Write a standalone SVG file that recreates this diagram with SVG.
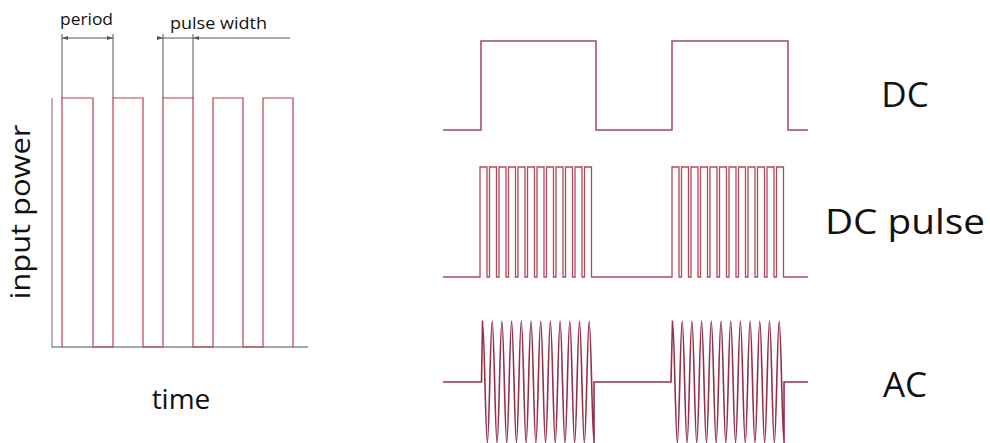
<svg xmlns="http://www.w3.org/2000/svg" width="990" height="443" viewBox="0 0 990 443">
<style>
.lbl{font-family:"Open Sans","Liberation Sans",sans-serif;fill:#111}
.dim{stroke:#555;stroke-width:1;fill:none}
.axis{stroke:#8a8a8a;stroke-width:1.3;fill:none}
.wave{fill:none;stroke-linejoin:miter}
</style>
<defs>
<marker id="ah" viewBox="0 0 6 6" refX="6" refY="3" markerWidth="6" markerHeight="6" orient="auto-start-reverse" markerUnits="userSpaceOnUse">
<path d="M0,1 L6,3 L0,5 Z" fill="#555"/>
</marker>
</defs>
<rect width="990" height="443" fill="#fff"/>

<g id="left-chart">
  <path class="axis" d="M52,98 V347 H308"/>
  <path class="wave" stroke="#b8404f" stroke-width="1.2" d="M62,347 V98 H93 V347 H113 V98 H143 V347 H163 V98 H193 V347 H213 V98 H243 V347 H263 V98 H293 V347"/>
  <g id="dimensions">
    <path class="dim" d="M62,34 V98 M113,34 V98 M163,34 V98 M193,34 V98"/>
    <line class="dim" x1="62" y1="38" x2="113" y2="38" marker-start="url(#ah)" marker-end="url(#ah)"/>
    <line class="dim" x1="157" y1="38" x2="163" y2="38" marker-end="url(#ah)"/>
    <line class="dim" x1="163" y1="38" x2="193" y2="38"/>
    <line class="dim" x1="290" y1="38" x2="193" y2="38" marker-end="url(#ah)"/>
  </g>
  <text class="lbl" x="60" y="25" font-size="16" textLength="53" lengthAdjust="spacingAndGlyphs">period</text>
  <text class="lbl" x="170" y="29" font-size="16" textLength="97" lengthAdjust="spacingAndGlyphs">pulse width</text>
  <text class="lbl" transform="translate(30,212) rotate(-90)" text-anchor="middle" font-size="27" textLength="175" lengthAdjust="spacingAndGlyphs">input power</text>
  <text class="lbl" x="181" y="409" text-anchor="middle" font-size="28">time</text>
</g>

<g id="dc">
  <path class="wave" stroke="#a34a58" stroke-width="1.5" d="M443,130 H481 V41 H596 V130 H672 V41 H788 V130 H808"/>
  <text class="lbl" x="905" y="107" text-anchor="middle" font-size="35">DC</text>
</g>

<g id="dc-pulse">
  <path class="wave" stroke="#b04a5a" stroke-width="1.3" d="M443,277 H480
  V167 h7 V277 h2.5 V167 h7 V277 h2.5 V167 h7 V277 h2.5 V167 h7 V277 h2.5
  V167 h7 V277 h2.5 V167 h7 V277 h2.5 V167 h7 V277 h2.5 V167 h7 V277 h2.5
  V167 h7 V277 h2.5 V167 h7 V277 h2.5 V167 h7 V277 h2.5 V167 h7 V277
  H672
  V167 h7 V277 h2.5 V167 h7 V277 h2.5 V167 h7 V277 h2.5 V167 h7 V277 h2.5
  V167 h7 V277 h2.5 V167 h7 V277 h2.5 V167 h7 V277 h2.5 V167 h7 V277 h2.5
  V167 h7 V277 h2.5 V167 h7 V277 h2.5 V167 h7 V277 h2.5 V167 h7 V277
  H808"/>
  <text class="lbl" x="905" y="234" text-anchor="middle" font-size="35" textLength="160" lengthAdjust="spacingAndGlyphs">DC pulse</text>
</g>

<g id="ac">
  <path class="wave" stroke="#93304a" stroke-width="1.6" d="M443,382 H481.5 L482.5,321
  c1.77,0 3.08,122 4.85,122 c1.77,0 3.08,-122 4.85,-122
  c1.77,0 3.08,122 4.85,122 c1.77,0 3.08,-122 4.85,-122
  c1.77,0 3.08,122 4.85,122 c1.77,0 3.08,-122 4.85,-122
  c1.77,0 3.08,122 4.85,122 c1.77,0 3.08,-122 4.85,-122
  c1.77,0 3.08,122 4.85,122 c1.77,0 3.08,-122 4.85,-122
  c1.77,0 3.08,122 4.85,122 c1.77,0 3.08,-122 4.85,-122
  c1.77,0 3.08,122 4.85,122 c1.77,0 3.08,-122 4.85,-122
  c1.77,0 3.08,122 4.85,122 c1.77,0 3.08,-122 4.85,-122
  c1.77,0 3.08,122 4.85,122 c1.77,0 3.08,-122 4.85,-122
  c1.77,0 3.08,122 4.85,122 c1.77,0 3.08,-122 4.85,-122
  c1.77,0 3.08,122 4.85,122 c1.77,0 3.08,-122 4.85,-122
  c1.77,0 3.08,122 4.85,122
  V382 H671 L672.5,321
  c1.77,0 3.08,122 4.85,122 c1.77,0 3.08,-122 4.85,-122
  c1.77,0 3.08,122 4.85,122 c1.77,0 3.08,-122 4.85,-122
  c1.77,0 3.08,122 4.85,122 c1.77,0 3.08,-122 4.85,-122
  c1.77,0 3.08,122 4.85,122 c1.77,0 3.08,-122 4.85,-122
  c1.77,0 3.08,122 4.85,122 c1.77,0 3.08,-122 4.85,-122
  c1.77,0 3.08,122 4.85,122 c1.77,0 3.08,-122 4.85,-122
  c1.77,0 3.08,122 4.85,122 c1.77,0 3.08,-122 4.85,-122
  c1.77,0 3.08,122 4.85,122 c1.77,0 3.08,-122 4.85,-122
  c1.77,0 3.08,122 4.85,122 c1.77,0 3.08,-122 4.85,-122
  c1.77,0 3.08,122 4.85,122 c1.77,0 3.08,-122 4.85,-122
  c1.77,0 3.08,122 4.85,122 c1.77,0 3.08,-122 4.85,-122
  c1.77,0 3.08,122 4.85,122
  V382 H808"/>
  <text class="lbl" x="905" y="397" text-anchor="middle" font-size="35">AC</text>
</g>
</svg>
